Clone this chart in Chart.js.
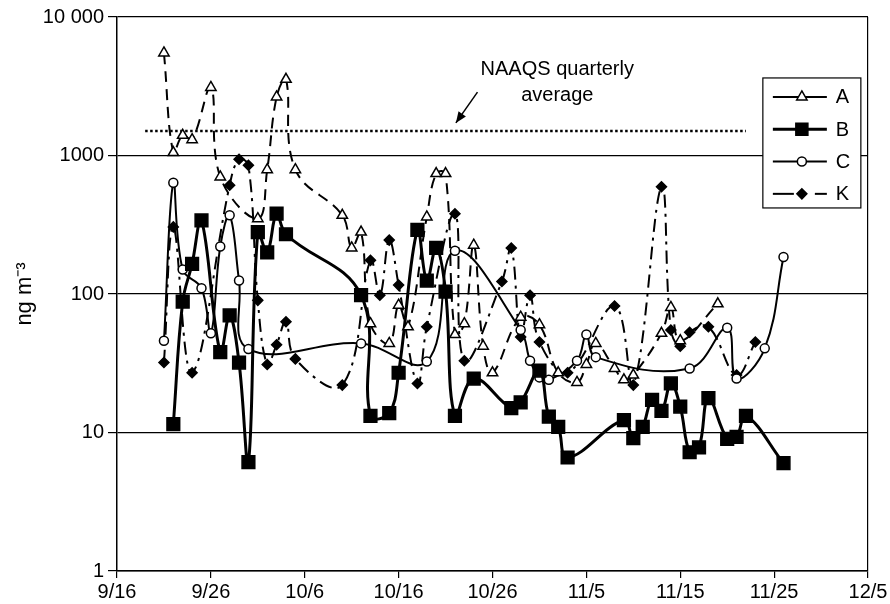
<!DOCTYPE html>
<html><head><meta charset="utf-8">
<script src="https://cdn.jsdelivr.net/npm/chart.js@4.4.1/dist/chart.umd.min.js"></script>
<style>html,body{margin:0;padding:0;background:#fff;}#wrap{width:890px;height:604px;}</style>
</head><body><div id="wrap"><canvas id="c" width="890" height="604"></canvas></div>
<script>
// ---- data ----
const xTickLabels = ['9/16','9/26','10/6','10/16','10/26','11/5','11/15','11/25','12/5'];
const yTickValues = [1, 10, 100, 1000, 10000];
const yTickLabels = ['1', '10', '100', '1000', '10 000'];
const seriesNames = ['A', 'B', 'C', 'K'];

const aDates  = ['9/21','9/22','9/23','9/24','9/26','9/27','10/1','10/2','10/3','10/4','10/5','10/10','10/11','10/12','10/13','10/15','10/16','10/17','10/19','10/20','10/21','10/22','10/23','10/24','10/25','10/26','10/29','10/31','11/2','11/4','11/5','11/6','11/8','11/9','11/10','11/13','11/14','11/15','11/19'];
const aValues = [5500,1050,1400,1300,3100,700,350,790,2650,3550,790,370,215,280,61,44,83,58,360,740,740,51,61,225,42,27,68,60,27,23,31,44,29,24,26,52,80,46,85];

const bDates  = ['9/22','9/23','9/24','9/25','9/27','9/28','9/29','9/30','10/1','10/2','10/3','10/4','10/12','10/13','10/15','10/16','10/18','10/19','10/20','10/21','10/22','10/24','10/28','10/29','10/31','11/1','11/2','11/3','11/9','11/10','11/11','11/12','11/13','11/14','11/15','11/16','11/17','11/18','11/20','11/21','11/22','11/26'];
const bValues = [11.5,88,165,340,38,70,32,6.1,280,200,380,270,98,13.2,13.8,27,290,125,215,104,13.2,24.5,15,16.5,28,13,11,6.6,12.3,9.1,11,17.2,14.3,22.6,15.4,7.2,7.8,17.7,9,9.3,13.2,6];

const cDates  = ['9/21','9/22','9/23','9/25','9/26','9/27','9/28','9/29','9/30','10/12','10/19','10/22','10/29','10/30','10/31','11/1','11/4','11/5','11/6','11/16','11/20','11/21','11/24','11/26'];
const cValues = [46,635,150,110,52,220,370,125,40,44,32.5,205,55,33,25,24,33,51,35,29,57,24.5,40.5,185];

const kDates  = ['9/21','9/22','9/24','9/28','9/29','9/30','10/1','10/2','10/3','10/4','10/5','10/10','10/13','10/14','10/15','10/16','10/18','10/19','10/22','10/23','10/27','10/28','10/29','10/30','10/31','11/3','11/8','11/10','11/13','11/14','11/15','11/16','11/18','11/21','11/23'];
const kValues = [32,305,27,610,940,850,90,31,43,63,34,22,175,98,245,116,22.6,58,380,33,123,215,49,98,45,27,82,22,595,55,42,53,58,26,45];

const naaqsDates  = ['9/19','11/22'];
const naaqsValues = [1500,1500];
const naaqsText = ['NAAQS quarterly', 'average'];

// ---- helpers ----
function dayOf(s){const p=s.split('/').map(Number);return Math.round((Date.UTC(2000,p[0]-1,p[1])-Date.UTC(2000,8,16))/864e5);}
function pts(d,v){return d.map((s,i)=>({x:dayOf(s),y:v[i]}));}
const FONT = "'Liberation Sans Narrow','Arial Narrow','Liberation Sans',Arial,sans-serif";

const styles = {
  A:{borderWidth:2, borderDash:[11,7], pointStyle:'triangle', pointRadius:6, fill:'#fff'},
  B:{borderWidth:3, borderDash:[], pointStyle:'rect', pointRadius:9, fill:'#000'},
  C:{borderWidth:2, borderDash:[], pointStyle:'circle', pointRadius:4.5, fill:'#fff'},
  K:{borderWidth:2, borderDash:[13,6,3,6], pointStyle:'rectRot', pointRadius:5, fill:'#000'}
};
const seriesData = {A:[aDates,aValues], B:[bDates,bValues], C:[cDates,cValues], K:[kDates,kValues]};

const datasets = seriesNames.map(n=>({
  label:n, data:pts(seriesData[n][0],seriesData[n][1]),
  borderColor:'#000', borderWidth:styles[n].borderWidth, borderDash:styles[n].borderDash,
  pointStyle:styles[n].pointStyle, pointRadius:styles[n].pointRadius,
  pointBackgroundColor:styles[n].fill, pointBorderColor:'#000', pointBorderWidth:1.5,
  tension:0.4, fill:false
}));
datasets.push({label:'NAAQS', data:pts(naaqsDates,naaqsValues), borderColor:'#000', borderWidth:2.5,
  borderDash:[2.5,2.5], pointRadius:0, tension:0, fill:false});

function marker(ctx, style, x, y, r, fill){
  ctx.save(); ctx.setLineDash([]); ctx.lineWidth=1.5; ctx.strokeStyle='#000'; ctx.fillStyle=fill;
  ctx.beginPath();
  if(style==='triangle'){ctx.moveTo(x,y-r);ctx.lineTo(x+r*0.866,y+r*0.5);ctx.lineTo(x-r*0.866,y+r*0.5);ctx.closePath();}
  else if(style==='rect'){const s=r*Math.SQRT1_2;ctx.rect(x-s,y-s,2*s,2*s);}
  else if(style==='circle'){ctx.arc(x,y,r,0,Math.PI*2);}
  else {ctx.moveTo(x-r,y);ctx.lineTo(x,y-r);ctx.lineTo(x+r,y);ctx.lineTo(x,y+r);ctx.closePath();}
  ctx.fill(); ctx.stroke(); ctx.restore();
}

const overlay = {
  id:'overlay',
  afterDatasetsDraw(chart){
    const ctx=chart.ctx, xs=chart.scales.x, ys=chart.scales.y;
    // annotation
    ctx.save();
    ctx.fillStyle='#000'; ctx.font='20px '+FONT; ctx.textAlign='center'; ctx.textBaseline='middle';
    const tx=xs.getPixelForValue(46.9);
    ctx.fillText(naaqsText[0], tx, ys.getPixelForValue(4150));
    ctx.fillText(naaqsText[1], tx, ys.getPixelForValue(2730));
    const x1=xs.getPixelForValue(38.4), y1=ys.getPixelForValue(2870);
    const x2=xs.getPixelForValue(36.1), y2=ys.getPixelForValue(1720);
    ctx.strokeStyle='#000'; ctx.lineWidth=1.5; ctx.beginPath(); ctx.moveTo(x1,y1); ctx.lineTo(x2,y2); ctx.stroke();
    const ang=Math.atan2(y2-y1,x2-x1), L=11, W=4.5;
    ctx.beginPath(); ctx.moveTo(x2,y2);
    ctx.lineTo(x2-L*Math.cos(ang)+W*Math.sin(ang), y2-L*Math.sin(ang)-W*Math.cos(ang));
    ctx.lineTo(x2-L*Math.cos(ang)-W*Math.sin(ang), y2-L*Math.sin(ang)+W*Math.cos(ang));
    ctx.closePath(); ctx.fill();
    // legend
    const bx=xs.getPixelForValue(68.8), by=ys.getPixelForValue(3630);
    const bw=98, bh=130;
    ctx.fillStyle='#fff'; ctx.fillRect(bx,by,bw,bh);
    ctx.strokeStyle='#000'; ctx.lineWidth=1.2; ctx.setLineDash([]); ctx.strokeRect(bx,by,bw,bh);
    ctx.font='20px '+FONT; ctx.textAlign='left'; ctx.textBaseline='middle';
    seriesNames.forEach((n,i)=>{
      const yy=by+19+i*32.3, st=styles[n];
      ctx.save(); ctx.strokeStyle='#000'; ctx.lineWidth=st.borderWidth;
      if(n==='K'){ctx.setLineDash([]);ctx.beginPath();ctx.moveTo(bx+10,yy);ctx.lineTo(bx+31,yy);ctx.stroke();
        ctx.beginPath();ctx.moveTo(bx+52,yy);ctx.lineTo(bx+64,yy);ctx.stroke();}
      else {ctx.setLineDash([]);ctx.beginPath();ctx.moveTo(bx+10,yy);ctx.lineTo(bx+64,yy);ctx.stroke();}
      ctx.restore();
      marker(ctx, st.pointStyle, bx+39, yy, st.pointStyle==='rect'?8.5:st.pointRadius, st.fill);
      ctx.fillStyle='#000'; ctx.fillText(n, bx+73, yy+1);
    });
    ctx.restore();
  }
};

new Chart(document.getElementById('c'), {
  type:'line',
  data:{datasets},
  options:{
    responsive:false, animation:false, devicePixelRatio:1,
    layout:{padding:{left:0,right:22,top:17,bottom:0}},
    plugins:{legend:{display:false}, tooltip:{enabled:false}},
    scales:{
      x:{type:'linear', min:0, max:80,
        afterBuildTicks:s=>{s.ticks=xTickLabels.map(l=>({value:dayOf(l)}));},
        afterFit:s=>{s.height=33;},
        ticks:{callback:(v,i)=>xTickLabels[i], color:'#000', font:{family:FONT,size:20}, padding:2, maxRotation:0, autoSkip:false},
        grid:{color:c=>c.index===xTickLabels.length-1?'#000':'rgba(0,0,0,0)', tickColor:'#000', tickLength:7, lineWidth:1.2},
        border:{color:'#000', width:1.5}
      },
      y:{type:'logarithmic', min:1, max:10000,
        afterBuildTicks:s=>{s.ticks=yTickValues.map(v=>({value:v}));},
        afterFit:s=>{s.width=117;},
        ticks:{callback:(v,i)=>yTickLabels[i], color:'#000', font:{family:FONT,size:20}, padding:4, autoSkip:false},
        grid:{color:'#000', tickColor:'#000', tickLength:9, lineWidth:1.2},
        border:{color:'#000', width:1.5},
        title:{display:true, text:'ng m\u207B\u00B3', color:'#000', font:{family:FONT,size:22}, padding:{top:12,bottom:0}}
      }
    }
  },
  plugins:[overlay]
});
</script></body></html>
